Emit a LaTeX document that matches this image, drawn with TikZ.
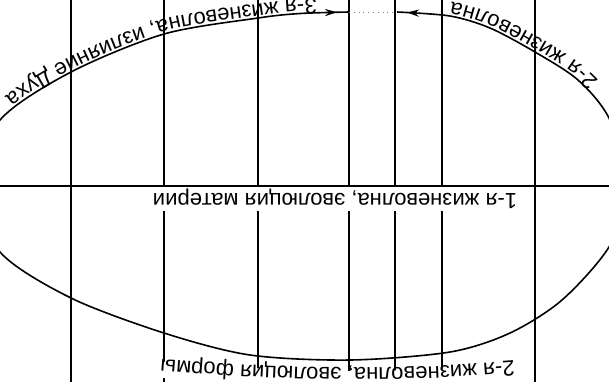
\documentclass[tikz,border=0pt]{standalone}
\usepackage{fontspec}
\setmainfont{Liberation Sans}
\usetikzlibrary{arrows.meta,decorations.text,decorations.markings}
\newcommand\wavefont{\fontsize{11pt}{13pt}\selectfont}

\begin{document}
\begin{tikzpicture}[x=0.5pt,y=-0.5pt,>=Stealth,
    gridline/.style={line width=0.8pt},
    waveline/.style={line width=0.8pt}]
  \useasboundingbox (0,0) rectangle (609,382);
  \clip (0,0) rectangle (609,382);
  % grid
  \foreach \x in {71,164,258,349,395,442,535}
    \draw[gridline] (\x,0) -- (\x,382);
  \draw[gridline] (0,186) -- (609,186);
  % white band under the lower label
  \draw[white,line width=8pt]
    plot[smooth] coordinates {(522,371) (440,377) (350,379) (250,376) (152,369)};
  % the loop of the waves
  \coordinate (spirit) at (349,12);
  \coordinate (life) at (397,12);
  \draw[waveline,postaction={decorate,decoration={markings,
      mark=at position 6pt with {\arrowreversed{Stealth[length=6pt,width=3.6pt]}},
      mark=at position -5pt with {\arrow{Stealth[length=6pt,width=3.6pt]}}}}]
    plot[smooth] coordinates {(349,12) (300,13.5) (258,18) (164,34) (71,72) (0,120)
      (-26,186) (0,252) (71,298) (164,333) (250,355) (350,360) (450,352) (510,333)
      (562,300) (609,247) (632,186) (609,118) (578,80) (535,52) (490,28) (450,16)
      (397,12)};
  \draw[gray,dotted,line width=0.4pt] (spirit) -- (life);
  % labels
  \node[rotate=180,fill=white,inner sep=1pt,font=\wavefont] (matter) at (335,199)
    {1-я жизневолна, эволюция материи};
  \path[decorate,decoration={text along path,raise=-7pt,
      text align={left indent=16pt},
      text={|\wavefont|3-я жизневолна, излияние Духа}}]
    plot[smooth] coordinates {(349,12) (300,13.5) (258,18) (164,34) (71,72) (0,120)
      (-26,186)};
  \path[decorate,decoration={text along path,raise=-7pt,
      text align={align=right,right indent=26pt},
      text={|\wavefont|2-я жизневолна}}]
    plot[smooth] coordinates {(632,186) (609,118) (578,80) (535,52) (490,28) (450,16)
      (397,12)};
  \path[decorate,decoration={text along path,raise=1pt,
      text align=center,
      text={|\wavefont|2-я жизневолна, эволюция формы}}]
    plot[smooth] coordinates {(525,358) (440,364) (350,366) (250,363) (150,356)};
\end{tikzpicture}
\end{document}
